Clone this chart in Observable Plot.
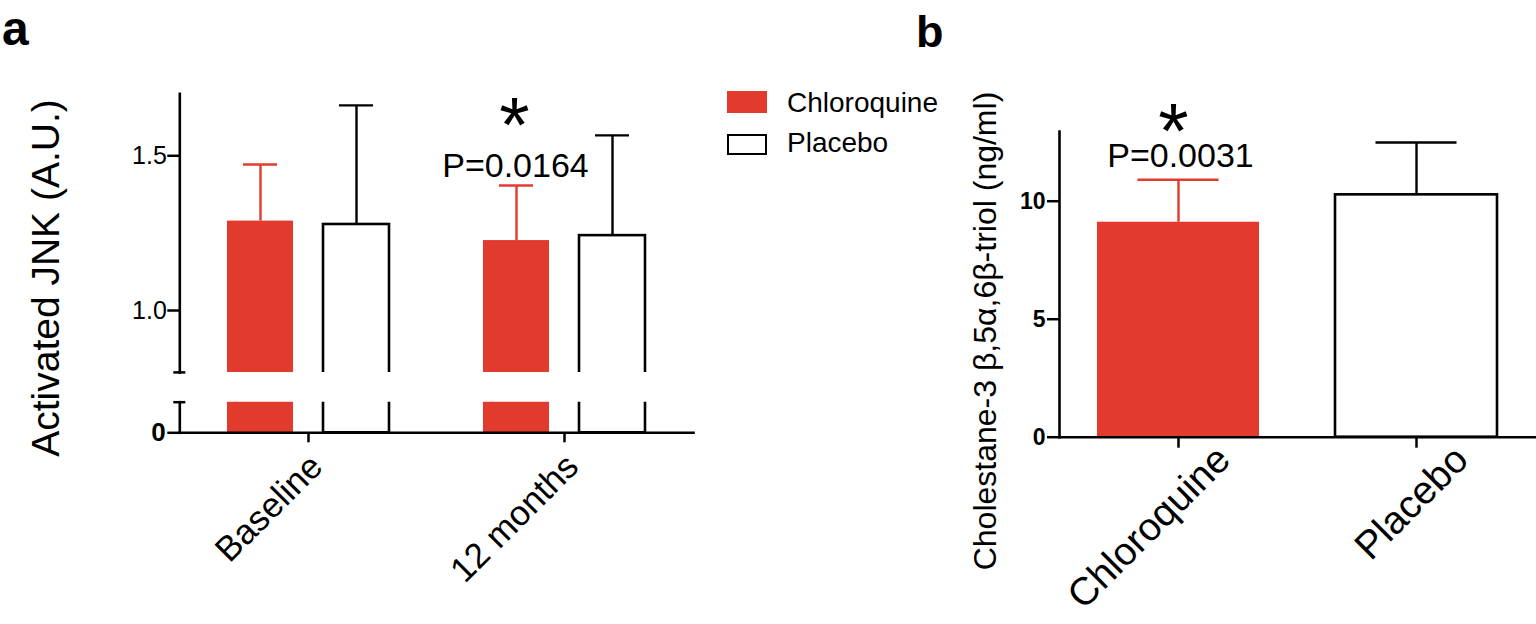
<!DOCTYPE html>
<html><head><meta charset="utf-8">
<script src="https://cdn.jsdelivr.net/npm/d3@7"></script>
<script src="https://cdn.jsdelivr.net/npm/@observablehq/plot@0.6"></script>
<style>
html,body{margin:0;padding:0;background:#fff;}
#root{position:relative;width:1536px;height:624px;overflow:hidden;background:#fff;font-family:"Liberation Sans",Arial,Helvetica,sans-serif;color:#000;}
.t{position:absolute;white-space:pre;line-height:1;}
.rot{position:absolute;white-space:pre;line-height:1;transform:translate(-50%,-50%) rotate(-90deg);}
.sw{position:absolute;box-sizing:border-box;}
</style></head><body><div id="root"></div>
<script>
const FONT = '"Liberation Sans", Arial, Helvetica, sans-serif';
const RED = "#e23a2c";

// ---- Panel a data ----
const groupsA = ["Baseline", "12 months"];
const seriesNames = ["Chloroquine", "Placebo"];
const chloroquineMeanA = [1.289, 1.226];
const chloroquineUpperA = [1.472, 1.404];
const placeboMeanA = [1.278, 1.242];
const placeboUpperA = [1.663, 1.566];
const yTicksUpperA = [1.0, 1.5];
const yTicksLowerA = [0];
const annotationsA = [{group: "12 months", series: "Chloroquine", star: "*", label: "P=0.0164"}];

// ---- Panel b data ----
const groupsB = ["Chloroquine", "Placebo"];
const meanB = [9.11, 10.27];
const upperB = [10.91, 12.49];
const yTicksB = [0, 5, 10];
const annotationsB = [{group: "Chloroquine", star: "*", label: "P=0.0031"}];

// ---- tables ----
const rowsA = groupsA.flatMap((g, i) => [
  {group: g, series: "Chloroquine", mean: chloroquineMeanA[i], upper: chloroquineUpperA[i]},
  {group: g, series: "Placebo", mean: placeboMeanA[i], upper: placeboUpperA[i]}
]);
const rowsB = groupsB.map((g, i) => ({group: g, series: g, mean: meanB[i], upper: upperB[i]}));
const annA = annotationsA.map(a => ({...a, upper: rowsA.find(r => r.group === a.group && r.series === a.series).upper}));
const annB = annotationsB.map(a => ({...a, upper: rowsB.find(r => r.group === a.group).upper}));

const FILL = {Chloroquine: RED, Placebo: "white"};
const STROKE = {Chloroquine: "none", Placebo: "black"};
const ERR = {Chloroquine: RED, Placebo: "black"};
const OFFSET_A = {Chloroquine: -48, Placebo: 48};

function barMarksA(withErr) {
  const m = [];
  for (const s of seriesNames) {
    const d = rowsA.filter(r => r.series === s);
    const dx = OFFSET_A[s];
    if (withErr) {
      m.push(Plot.ruleX(d, {x: "group", y1: "mean", y2: "upper", dx, stroke: ERR[s], strokeWidth: 2.4}));
      m.push(Plot.tickY(d, {x: "group", y: "upper", dx, stroke: ERR[s], strokeWidth: 2.4, insetLeft: 16, insetRight: 16}));
    }
    m.push(Plot.barY(d, {x: "group", y: "mean", dx, fill: FILL[s], stroke: STROKE[s], strokeWidth: 2.6, clip: true}));
  }
  return m;
}

const xA = {domain: groupsA, paddingInner: 0.741, paddingOuter: 0.3705};
const baseStyle = {background: "transparent", overflow: "visible", fontFamily: FONT, color: "black"};

const upperA = Plot.plot({
  width: 700, height: 380,
  marginLeft: 179.3, marginRight: 7, marginTop: 93.4, marginBottom: 8.1,
  style: baseStyle,
  x: {...xA, axis: null},
  y: {domain: [0.8, 1.7]},
  marks: [
    ...barMarksA(true),
    Plot.axisY({ticks: yTicksUpperA, tickFormat: d3.format(".1f"), tickSize: 12, tickPadding: 1, fontSize: 25, strokeWidth: 2.5, label: null}),
    Plot.axisY({ticks: [0.8], tickSize: 12, dx: 6, tickFormat: () => "", strokeWidth: 2.5, label: null}),
    Plot.frame({anchor: "left", strokeWidth: 2.6}),
    Plot.text(annA, {x: "group", y: "upper", text: "label", dx: OFFSET_A.Chloroquine - 1, dy: -8, lineAnchor: "bottom", fontSize: 34}),
    Plot.text(annA, {x: "group", y: "upper", text: "star", dx: OFFSET_A.Chloroquine - 2, dy: -58, lineAnchor: "middle", fontSize: 78})
  ]
});

const lowerA = Plot.plot({
  width: 700, height: 234,
  marginLeft: 179.3, marginRight: 7, marginTop: 11.7, marginBottom: 191.7,
  style: baseStyle,
  x: xA,
  y: {domain: [0, 0.1]},
  marks: [
    ...barMarksA(false),
    Plot.axisY({ticks: yTicksLowerA, tickFormat: d3.format("d"), tickSize: 12, tickPadding: 2, fontSize: 26, fontWeight: "bold", strokeWidth: 2.5, label: null}),
    Plot.axisY({ticks: [0.1], tickSize: 12, dx: 6, tickFormat: () => "", strokeWidth: 2.5, label: null}),
    Plot.axisX({tickSize: 10, tickFormat: () => "", strokeWidth: 2.5, label: null}),
    Plot.axisX({tickRotate: -45, fontSize: 35, tickSize: 0, tickPadding: 28, dx: 8, label: null}),
    Plot.frame({anchor: "left", strokeWidth: 2.6}),
    Plot.frame({anchor: "bottom", strokeWidth: 2.6})
  ]
});

const plotB = Plot.plot({
  width: 636, height: 624,
  marginLeft: 159, marginRight: 1, marginTop: 131.1, marginBottom: 187.3,
  style: baseStyle,
  x: {domain: groupsB, paddingInner: 0.32, paddingOuter: 0.16},
  y: {domain: [0, 12.95]},
  marks: [
    Plot.ruleX(rowsB, {x: "group", y1: "mean", y2: "upper", stroke: d => ERR[d.series], strokeWidth: 2.4}),
    Plot.tickY(rowsB, {x: "group", y: "upper", stroke: d => ERR[d.series], strokeWidth: 2.4, insetLeft: 40.5, insetRight: 40.5}),
    Plot.barY(rowsB, {x: "group", y: "mean", fill: d => FILL[d.series], stroke: d => STROKE[d.series], strokeWidth: 2.6}),
    Plot.axisY({ticks: yTicksB, tickFormat: d3.format("d"), tickSize: 12, tickPadding: 2, fontSize: 23, fontWeight: "bold", strokeWidth: 2.5, label: null}),
    Plot.axisX({tickSize: 11, tickFormat: () => "", strokeWidth: 2.5, label: null}),
    Plot.axisX({tickRotate: -45, fontSize: 39, tickSize: 0, tickPadding: 16, dx: 45, label: null}),
    Plot.frame({anchor: "left", strokeWidth: 2.6}),
    Plot.frame({anchor: "bottom", strokeWidth: 2.6}),
    Plot.text(annB, {x: "group", y: "upper", text: "label", dx: 2, dy: -13, lineAnchor: "bottom", fontSize: 34}),
    Plot.text(annB, {x: "group", y: "upper", text: "star", dx: -5, dy: -47, lineAnchor: "middle", fontSize: 78})
  ]
});

const root = document.getElementById("root");
function place(el, left, top) {
  el.style.position = "absolute";
  el.style.left = left + "px";
  el.style.top = top + "px";
  root.appendChild(el);
}
place(upperA, 0, 0);
place(lowerA, 0, 390);
place(plotB, 900, 0);

function text(str, left, baseline, size, weight) {
  const d = document.createElement("div");
  d.className = "t";
  d.textContent = str;
  d.style.fontSize = size + "px";
  d.style.fontWeight = weight || "normal";
  d.style.left = left + "px";
  d.style.top = (baseline - 0.8465 * size) + "px";
  root.appendChild(d);
  return d;
}
function rotText(str, cx, cy, size) {
  const d = document.createElement("div");
  d.className = "rot";
  d.textContent = str;
  d.style.fontSize = size + "px";
  d.style.left = cx + "px";
  d.style.top = cy + "px";
  root.appendChild(d);
}
// panel letters
text("a", 2, 46, 48, "bold");
text("b", 916, 47, 45, "bold");
// axis titles
rotText("Activated JNK (A.U.)", 45, 278, 39);
rotText("Cholestane-3 β,5α,6β-triol (ng/ml)", 985, 331, 32);
// legend
const sw1 = document.createElement("div"); sw1.className = "sw";
Object.assign(sw1.style, {left: "727px", top: "91px", width: "40px", height: "22px", background: RED});
root.appendChild(sw1);
const sw2 = document.createElement("div"); sw2.className = "sw";
Object.assign(sw2.style, {left: "727px", top: "134px", width: "40px", height: "21px", background: "white", border: "2.6px solid black"});
root.appendChild(sw2);
text(seriesNames[0], 787, 112.7, 28);
text(seriesNames[1], 787, 152.7, 28);
</script>
</body></html>
